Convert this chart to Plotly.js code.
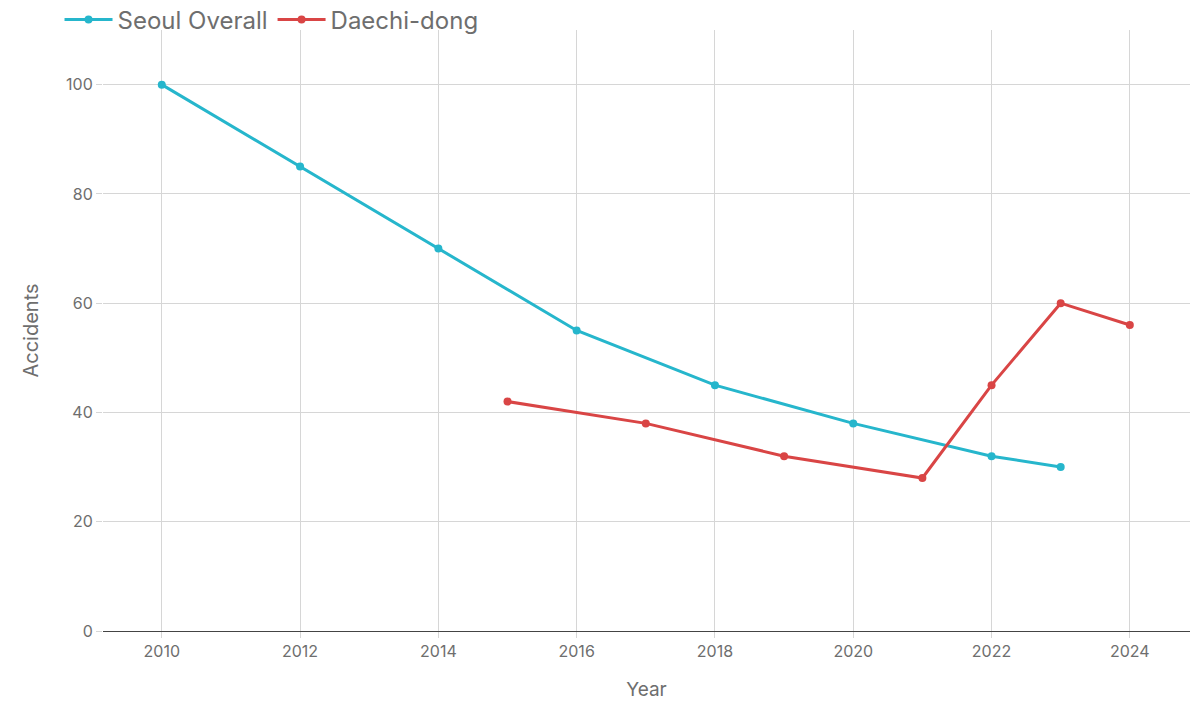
<!DOCTYPE html>
<html><head><meta charset="utf-8">
<script src="https://cdn.plot.ly/plotly-3.0.1.min.js"></script>
<style>html,body{margin:0;padding:0;background:#fff}#chart{width:1196px;height:701px}</style>
</head><body><div id="chart"></div>
<script>
const seoulYears = [2010, 2012, 2014, 2016, 2018, 2020, 2022, 2023];
const seoulValues = [100, 85, 70, 55, 45, 38, 32, 30];
const daechiYears = [2015, 2017, 2019, 2021, 2022, 2023, 2024];
const daechiValues = [42, 38, 32, 28, 45, 60, 56];
const xTicks = [2010, 2012, 2014, 2016, 2018, 2020, 2022, 2024];
const yTicks = [0, 20, 40, 60, 80, 100];

const font = "Inter, Liberation Sans, Arial, sans-serif";
const data = [
  {x: seoulYears, y: seoulValues, name: "Seoul Overall", mode: "lines+markers",
   line: {color: "#26b6cc", width: 3}, marker: {color: "#26b6cc", size: 8}},
  {x: daechiYears, y: daechiValues, name: "Daechi-dong", mode: "lines+markers",
   line: {color: "#d94545", width: 3}, marker: {color: "#d94545", size: 8}}
];
const layout = {
  width: 1196, height: 701,
  margin: {l: 103, r: 6, t: 30, b: 70, autoexpand: false},
  paper_bgcolor: "#fff", plot_bgcolor: "#fff",
  font: {family: font, color: "#6e6e6e", size: 16},
  showlegend: true,
  legend: {orientation: "h", x: -0.04, xanchor: "left", y: 1.017, yanchor: "middle",
           itemwidth: 48,
           font: {size: 24, color: "#6e6e6e"}, bgcolor: "rgba(0,0,0,0)"},
  xaxis: {range: [2009.15, 2024.87], tickvals: xTicks, ticktext: xTicks.map(String),
          showgrid: true, gridcolor: "#d6d6d6", gridwidth: 1, zeroline: false,
          ticks: "outside", ticklen: 6, tickcolor: "#d6d6d6",
          showline: false,
          title: {text: "Year", font: {size: 19, color: "#6e6e6e"}, standoff: 22},
          tickfont: {size: 16, color: "#6e6e6e"}},
  yaxis: {range: [0, 110], tickvals: yTicks, showgrid: true, gridcolor: "#d6d6d6",
          zeroline: true, zerolinecolor: "#444", zerolinewidth: 1,
          ticks: "outside", ticklen: 6, tickcolor: "#d6d6d6",
          title: {text: "Accidents", font: {size: 20, color: "#6e6e6e"}, standoff: 22},
          tickfont: {size: 16, color: "#6e6e6e"}}
};
Plotly.newPlot("chart", data, layout, {displayModeBar: false});
</script></body></html>
